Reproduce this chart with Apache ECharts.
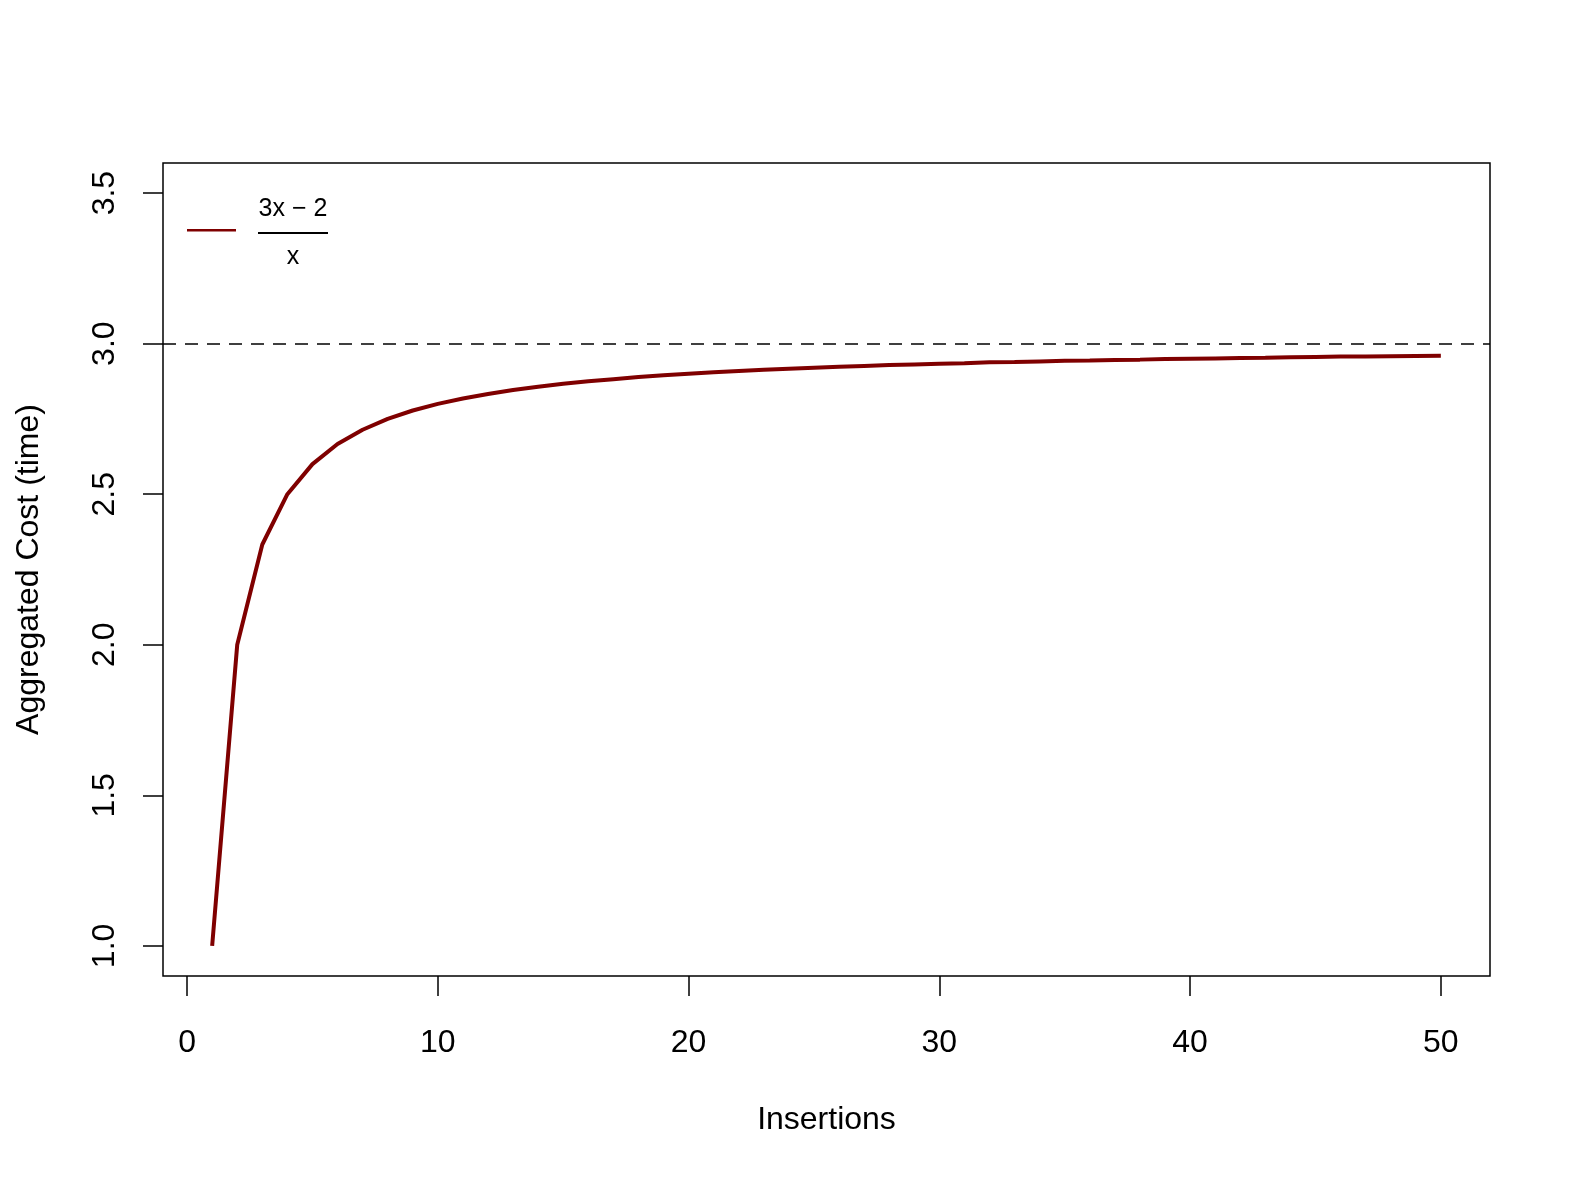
<!DOCTYPE html>
<html>
<head>
<meta charset="utf-8">
<script src="https://cdn.jsdelivr.net/npm/echarts@6/dist/echarts.min.js"></script>
<style>
html,body{margin:0;padding:0;background:#fff;}
#chart{width:1574px;height:1181px;}
</style>
</head>
<body>
<div id="chart"></div>
<script>
var insertions = [1,2,3,4,5,6,7,8,9,10,11,12,13,14,15,16,17,18,19,20,21,22,23,24,25,26,27,28,29,30,31,32,33,34,35,36,37,38,39,40,41,42,43,44,45,46,47,48,49,50];
var costValues = [1.000,2.000,2.333,2.500,2.600,2.667,2.714,2.750,2.778,2.800,2.818,2.833,2.846,2.857,2.867,2.875,2.882,2.889,2.895,2.900,2.905,2.909,2.913,2.917,2.920,2.923,2.926,2.929,2.931,2.933,2.935,2.938,2.939,2.941,2.943,2.944,2.946,2.947,2.949,2.950,2.951,2.952,2.953,2.955,2.956,2.957,2.957,2.958,2.959,2.960];
var xTicks = [0,10,20,30,40,50];
var yTicks = [1.0,1.5,2.0,2.5,3.0,3.5];
var asymptote = 3;
var seriesName = '(3x-2)/x';

var font = 'Liberation Sans, Arial, Helvetica, sans-serif';
var chart = echarts.init(document.getElementById('chart'), null, {renderer:'canvas'});
var pairs = insertions.map(function(x,i){return [x, costValues[i]];});
chart.setOption({
  animation:false,
  backgroundColor:'#fff',
  grid:{left:163, top:163, right:84, bottom:205, containLabel:false, outerBoundsMode:'none',
    show:true, borderColor:'#000', borderWidth:1.5, backgroundColor:'transparent'},
  xAxis:{
    type:'value', min:-0.96, max:51.96, position:'bottom',
    name:'Insertions', nameLocation:'middle', nameGap:128,
    nameTextStyle:{fontFamily:font, fontSize:32, color:'#000'},
    axisLine:{show:false, onZero:false},
    splitLine:{show:false},
    axisTick:{show:true, length:20, inside:false, customValues:xTicks, lineStyle:{color:'#000', width:1.5}},
    axisLabel:{customValues:xTicks, fontFamily:font, fontSize:32, color:'#000', margin:51,
      formatter:function(v){return String(v);}}
  },
  yAxis:{
    type:'value', min:0.9, max:3.6, position:'left',
    name:'Aggregated Cost (time)', nameLocation:'middle', nameGap:118, nameRotate:90,
    nameTextStyle:{fontFamily:font, fontSize:32, color:'#000'},
    axisLine:{show:false, onZero:false},
    splitLine:{show:false},
    axisTick:{show:true, length:20, inside:false, customValues:yTicks, lineStyle:{color:'#000', width:1.5}},
    axisLabel:{customValues:yTicks, rotate:90, fontFamily:font, fontSize:32, color:'#000', margin:42,
      formatter:function(v){return v.toFixed(1);}}
  },
  legend:{
    left:187, top:229, padding:0, z:20,
    itemWidth:49, itemHeight:2.5, icon:'rect',
    data:[{name:seriesName, itemStyle:{color:'#7f0000'}}],
    formatter:function(){return '';},
    textStyle:{fontSize:1}
  },
  graphic:[
    {type:'rect', z:10, shape:{x:164, y:164, width:174, height:98}, style:{fill:'#fff', stroke:null}},
    {type:'text', z:21, x:293, y:209, style:{text:'3x \u2212 2', font:'25px '+font, fill:'#000', textAlign:'center', textVerticalAlign:'middle'}},
    {type:'line', z:21, shape:{x1:258, y1:233, x2:328, y2:233}, style:{stroke:'#000', lineWidth:2}},
    {type:'text', z:21, x:293, y:257, style:{text:'x', font:'25px '+font, fill:'#000', textAlign:'center', textVerticalAlign:'middle'}}
  ],
  series:[{
    name:seriesName, type:'line', data:pairs, showSymbol:false, symbol:'none',
    lineStyle:{color:'#7f0000', width:4}, itemStyle:{color:'#7f0000'},
    markLine:{silent:true, symbol:['none','none'], label:{show:false},
      lineStyle:{color:'#000', width:1.5, type:[13,9]},
      data:[{yAxis:asymptote}]}
  }]
});
</script>
</body>
</html>
